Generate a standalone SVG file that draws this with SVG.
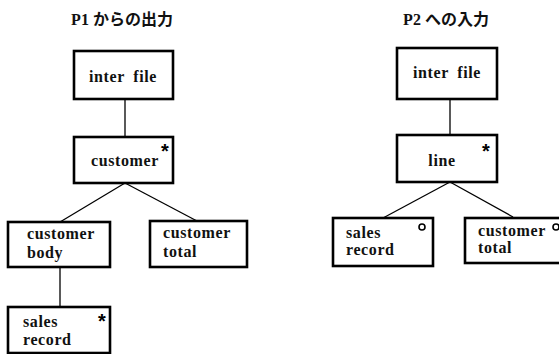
<svg xmlns="http://www.w3.org/2000/svg" width="559" height="354" viewBox="0 0 559 354">
<style>
.box{fill:#fff;stroke:#000;stroke-width:2.6}
.t{font-family:"Liberation Serif","Noto Serif",serif;font-weight:bold;font-size:16px;letter-spacing:0.6px;fill:#111}
.ttl{font-family:"Liberation Serif","Noto Sans CJK JP",serif;font-weight:bold;font-size:16px;fill:#111}
.ast{font-family:"Liberation Sans",sans-serif;font-weight:bold;font-size:20px;fill:#000}
.opt{fill:none;stroke:#000;stroke-width:1.6}
.c line{stroke:#000;stroke-width:1.3}
</style>
<rect width="559" height="354" fill="#fff"/>
<text class="ttl" x="122" y="25" text-anchor="middle">P1 からの出力</text>
<text class="ttl" x="446" y="25" text-anchor="middle">P2 への入力</text>
<g id="connectors" class="c">
<line x1="125" y1="99" x2="125" y2="137"/>
<line x1="125" y1="183" x2="60" y2="222"/>
<line x1="125" y1="183" x2="197" y2="221"/>
<line x1="60" y1="267" x2="60" y2="307"/>
<line x1="450" y1="99" x2="450" y2="135"/>
<line x1="450" y1="182" x2="383" y2="218"/>
<line x1="450" y1="182" x2="513" y2="217"/>
</g>
<g id="p1-inter-file">
<rect class="box" x="74" y="51" width="99" height="48"/>
<text class="t" x="123" y="82" text-anchor="middle" word-spacing="4">inter file</text>
</g>
<g id="p1-customer">
<rect class="box" x="74" y="137" width="99" height="46"/>
<text class="t" x="91" y="166">customer</text>
<text class="ast" x="161" y="158">*</text>
</g>
<g id="p1-customer-body">
<rect class="box" x="8" y="222" width="102" height="45"/>
<text class="t" x="27" y="239">customer</text>
<text class="t" x="27" y="258">body</text>
</g>
<g id="p1-customer-total">
<rect class="box" x="150" y="221" width="97" height="46"/>
<text class="t" x="163" y="238">customer</text>
<text class="t" x="163" y="257">total</text>
</g>
<g id="p1-sales-record">
<rect class="box" x="8" y="307" width="102" height="46"/>
<text class="t" x="23" y="327">sales</text>
<text class="t" x="23" y="345">record</text>
<text class="ast" x="98" y="328">*</text>
</g>
<g id="p2-inter-file">
<rect class="box" x="397" y="48" width="100" height="51"/>
<text class="t" x="447" y="78" text-anchor="middle" word-spacing="4">inter file</text>
</g>
<g id="p2-line">
<rect class="box" x="397" y="135" width="100" height="47"/>
<text class="t" x="442" y="166" text-anchor="middle">line</text>
<text class="ast" x="482" y="158">*</text>
</g>
<g id="p2-sales-record">
<rect class="box" x="333" y="218" width="100" height="48"/>
<text class="t" x="346" y="238">sales</text>
<text class="t" x="346" y="255">record</text>
<circle class="opt" cx="422" cy="227" r="3"/>
</g>
<g id="p2-customer-total">
<rect class="box" x="465" y="218" width="100" height="45"/>
<text class="t" x="478" y="236">customer</text>
<text class="t" x="478" y="253">total</text>
<circle class="opt" cx="556" cy="227" r="3"/>
</g>
</svg>
